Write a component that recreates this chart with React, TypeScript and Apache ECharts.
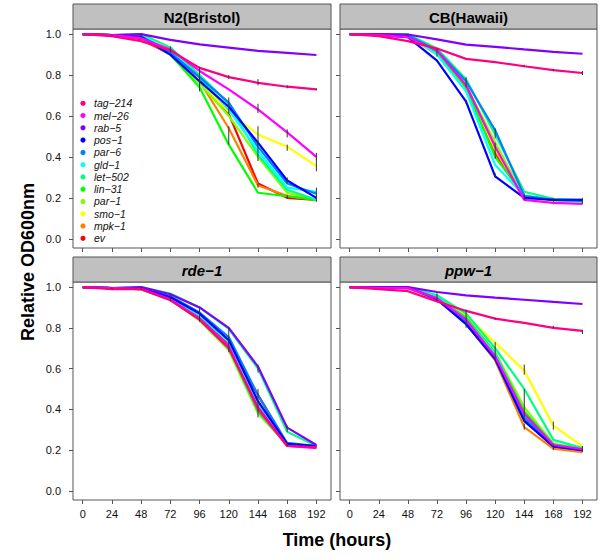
import React, { useEffect, useRef } from "react";
import * as echarts from "echarts";

const times = [0, 24, 48, 72, 96, 120, 144, 168, 192];
const yTicks = [0, 0.2, 0.4, 0.6, 0.8, 1.0];
const genes = ["tag−214", "mel−26", "rab−5", "pos−1", "par−6", "gld−1", "let−502", "lin−31", "par−1", "smo−1", "mpk−1", "ev"];
const geneColors = ["#ff0080", "#ff00ff", "#8000ff", "#0000ff", "#0080ff", "#00ffff", "#00ff80", "#00ff00", "#80ff00", "#ffff00", "#ff8000", "#ff0000"];
const panelTitles = ["N2(Bristol)", "CB(Hawaii)", "rde−1", "ppw−1"];

// rows follow the order of `genes`
const n2Values = [
  [1.0, 0.99, 0.965, 0.92, 0.835, 0.79, 0.762, 0.743, 0.73],
  [1.0, 0.995, 0.98, 0.925, 0.82, 0.73, 0.632, 0.52, 0.4],
  [1.0, 0.995, 1.0, 0.972, 0.95, 0.934, 0.918, 0.908, 0.898],
  [1.0, 0.995, 0.985, 0.9, 0.77, 0.645, 0.47, 0.285, 0.2],
  [1.0, 0.995, 0.99, 0.91, 0.79, 0.665, 0.45, 0.27, 0.22],
  [1.0, 0.995, 0.99, 0.92, 0.79, 0.63, 0.43, 0.25, 0.23],
  [1.0, 0.995, 1.0, 0.935, 0.8, 0.66, 0.41, 0.24, 0.19],
  [1.0, 0.995, 0.99, 0.9, 0.74, 0.46, 0.225, 0.208, 0.19],
  [1.0, 0.995, 0.985, 0.9, 0.76, 0.6, 0.4, 0.225, 0.19],
  [1.0, 0.995, 0.985, 0.9, 0.77, 0.62, 0.51, 0.45, 0.355],
  [1.0, 0.995, 0.98, 0.9, 0.77, 0.54, 0.26, 0.21, 0.19],
  [1.0, 0.995, 0.975, 0.9, 0.79, 0.61, 0.27, 0.2, 0.19],
];
const cbValues = [
  [1.0, 0.99, 0.966, 0.93, 0.879, 0.863, 0.843, 0.824, 0.81],
  [1.0, 0.995, 0.985, 0.92, 0.75, 0.45, 0.19, 0.175, 0.17],
  [1.0, 1.0, 0.998, 0.974, 0.949, 0.938, 0.925, 0.913, 0.904],
  [1.0, 0.995, 0.985, 0.87, 0.67, 0.305, 0.2, 0.19, 0.19],
  [1.0, 0.998, 0.995, 0.92, 0.77, 0.53, 0.21, 0.19, 0.185],
  [1.0, 0.998, 0.995, 0.9, 0.72, 0.36, 0.21, 0.19, 0.18],
  [1.0, 1.0, 1.0, 0.93, 0.78, 0.51, 0.23, 0.195, 0.19],
  [1.0, 0.998, 0.995, 0.91, 0.74, 0.4, 0.21, 0.19, 0.185],
  [1.0, 0.998, 0.995, 0.91, 0.75, 0.47, 0.205, 0.19, 0.18],
  [1.0, 0.998, 0.99, 0.9, 0.74, 0.44, 0.2, 0.185, 0.18],
  [1.0, 0.998, 0.99, 0.9, 0.73, 0.43, 0.2, 0.18, 0.18],
  [1.0, 0.998, 0.99, 0.91, 0.74, 0.42, 0.2, 0.18, 0.175],
];
const rdeValues = [
  [1.0, 0.99, 0.99, 0.935, 0.84, 0.7, 0.41, 0.22, 0.215],
  [1.0, 0.995, 0.99, 0.94, 0.845, 0.71, 0.4, 0.22, 0.21],
  [1.0, 0.995, 1.0, 0.965, 0.9, 0.8, 0.61, 0.31, 0.225],
  [1.0, 0.995, 0.995, 0.95, 0.87, 0.74, 0.44, 0.23, 0.22],
  [1.0, 0.995, 0.995, 0.955, 0.875, 0.755, 0.47, 0.235, 0.22],
  [1.0, 0.995, 0.995, 0.95, 0.86, 0.73, 0.43, 0.23, 0.22],
  [1.0, 0.995, 1.0, 0.968, 0.9, 0.795, 0.6, 0.29, 0.22],
  [1.0, 0.995, 0.99, 0.94, 0.84, 0.7, 0.39, 0.225, 0.215],
  [1.0, 0.995, 0.99, 0.94, 0.835, 0.69, 0.38, 0.225, 0.215],
  [1.0, 0.995, 0.99, 0.94, 0.84, 0.7, 0.4, 0.225, 0.215],
  [1.0, 0.995, 0.99, 0.94, 0.84, 0.71, 0.42, 0.225, 0.215],
  [1.0, 0.995, 0.99, 0.94, 0.85, 0.72, 0.47, 0.23, 0.215],
];
const ppwValues = [
  [1.0, 0.99, 0.98, 0.93, 0.883, 0.845, 0.824, 0.8, 0.785],
  [1.0, 0.995, 0.995, 0.945, 0.84, 0.66, 0.378, 0.225, 0.205],
  [1.0, 1.0, 1.0, 0.976, 0.959, 0.948, 0.938, 0.927, 0.917],
  [1.0, 0.998, 0.998, 0.94, 0.818, 0.647, 0.342, 0.218, 0.2],
  [1.0, 0.998, 0.998, 0.945, 0.83, 0.66, 0.36, 0.22, 0.2],
  [1.0, 0.998, 0.998, 0.95, 0.84, 0.67, 0.37, 0.225, 0.205],
  [1.0, 1.0, 1.0, 0.96, 0.87, 0.7, 0.5, 0.25, 0.21],
  [1.0, 0.998, 0.998, 0.95, 0.85, 0.675, 0.39, 0.23, 0.205],
  [1.0, 0.998, 0.998, 0.95, 0.85, 0.68, 0.41, 0.23, 0.21],
  [1.0, 0.998, 0.995, 0.94, 0.858, 0.728, 0.59, 0.32, 0.218],
  [1.0, 0.998, 0.995, 0.94, 0.82, 0.64, 0.313, 0.207, 0.19],
  [1.0, 0.998, 0.995, 0.94, 0.83, 0.65, 0.35, 0.215, 0.195],
];

// error bars: [time, low, high]
const n2Errors = [
  [24, 0.99, 1.0], [48, 0.985, 1.0], [72, 0.91, 0.94], [96, 0.72, 0.84],
  [120, 0.78, 0.8], [120, 0.61, 0.69], [120, 0.46, 0.55],
  [144, 0.75, 0.78], [144, 0.615, 0.66], [144, 0.46, 0.55], [144, 0.38, 0.48], [144, 0.25, 0.27],
  [168, 0.735, 0.75], [168, 0.495, 0.535], [168, 0.43, 0.46], [168, 0.27, 0.3], [168, 0.195, 0.215],
  [192, 0.725, 0.735], [192, 0.385, 0.42], [192, 0.33, 0.39], [192, 0.2, 0.25], [192, 0.18, 0.21],
];
const cbErrors = [
  [48, 0.99, 1.0], [72, 0.89, 0.93], [96, 0.74, 0.79], [96, 0.66, 0.68],
  [120, 0.49, 0.54], [120, 0.39, 0.47], [120, 0.3, 0.32], [144, 0.84, 0.85], [144, 0.19, 0.22],
  [168, 0.82, 0.83], [168, 0.18, 0.2], [192, 0.8, 0.82], [192, 0.17, 0.2],
];
const rdeErrors = [
  [24, 0.99, 1.0], [48, 0.99, 1.0], [72, 0.93, 0.965], [96, 0.83, 0.9], [120, 0.68, 0.8],
  [144, 0.58, 0.62], [144, 0.36, 0.5], [168, 0.29, 0.32], [168, 0.22, 0.24],
];
const ppwErrors = [
  [72, 0.93, 0.97], [96, 0.8, 0.89], [120, 0.84, 0.85], [120, 0.64, 0.73],
  [144, 0.57, 0.62], [144, 0.34, 0.5], [144, 0.3, 0.33],
  [168, 0.8, 0.81], [168, 0.3, 0.34], [168, 0.2, 0.23], [192, 0.77, 0.79], [192, 0.19, 0.22],
];

const panelValues = [n2Values, cbValues, rdeValues, ppwValues];
const panelErrors = [n2Errors, cbErrors, rdeErrors, ppwErrors];

const FONT = "'Liberation Sans', Arial, Helvetica, sans-serif";
const FRAME = "#555555";

export default function App() {
  const ref = useRef<HTMLDivElement>(null);

  useEffect(() => {
    document.body.style.margin = "0";
    if (!ref.current) return;
    const chart = echarts.init(ref.current, null, { renderer: "svg" });

    const lefts = [73, 340];
    const widths = [258, 257];
    const tops = [29, 282];
    const heights = [219, 218];
    const headerH = 25;

    const grids: any[] = [];
    const xAxes: any[] = [];
    const yAxes: any[] = [];
    const graphics: any[] = [];

    for (let p = 0; p < 4; p++) {
      const col = p % 2;
      const row = Math.floor(p / 2);
      grids.push({
        left: lefts[col], top: tops[row], width: widths[col], height: heights[row],
        show: true, borderColor: FRAME, borderWidth: 1, backgroundColor: "#fff",
      });
      xAxes.push({
        type: "value", gridIndex: p, min: -8, max: 204, position: "bottom",
        axisLine: { show: false, onZero: false },
        splitLine: { show: false },
        axisTick: { show: true, inside: false, customValues: times, length: 4, lineStyle: { color: FRAME } },
        axisLabel: {
          show: row === 1, customValues: times, margin: 8,
          fontFamily: FONT, fontSize: 11, color: "#111",
        },
      });
      yAxes.push({
        type: "value", gridIndex: p, min: -0.045, max: 1.025, position: "left",
        axisLine: { show: false, onZero: false },
        splitLine: { show: false },
        axisTick: { show: true, inside: false, customValues: yTicks, length: 4, lineStyle: { color: FRAME } },
        axisLabel: {
          show: col === 0, customValues: yTicks, margin: 12,
          fontFamily: FONT, fontSize: 11, color: "#111",
          formatter: (v: number) => v.toFixed(1),
        },
      });
      const hx = lefts[col];
      const hy = tops[row] - headerH;
      graphics.push({
        type: "rect", shape: { x: hx, y: hy, width: widths[col], height: headerH },
        style: { fill: "#c0c0c0", stroke: FRAME, lineWidth: 1 }, z: 10,
      });
      graphics.push({
        type: "text", x: hx + widths[col] / 2, y: hy + headerH / 2 + 1, z: 11,
        style: {
          text: panelTitles[p], fill: "#000", align: "center", verticalAlign: "middle",
          font: `${row === 1 ? "italic " : ""}bold 15px ${FONT}`,
        },
      });
    }

    const series: any[] = [];
    for (let p = 0; p < 4; p++) {
      for (let g = genes.length - 1; g >= 0; g--) {
        series.push({
          type: "line", name: genes[g], xAxisIndex: p, yAxisIndex: p,
          data: times.map((t, i) => [t, panelValues[p][g][i]]),
          showSymbol: false, symbol: "none",
          lineStyle: { color: geneColors[g], width: 2.2 },
          itemStyle: { color: geneColors[g] },
          z: 2,
        });
      }
      series.push({
        type: "custom", xAxisIndex: p, yAxisIndex: p, z: 3,
        data: panelErrors[p],
        renderItem: (params: any, api: any) => {
          const a = api.coord([api.value(0), api.value(1)]);
          const b = api.coord([api.value(0), api.value(2)]);
          return {
            type: "line",
            shape: { x1: a[0], y1: a[1], x2: b[0], y2: b[1] },
            style: { stroke: "#333", lineWidth: 1 },
          };
        },
      });
    }

    // legend inside first panel
    genes.forEach((name, i) => {
      const y = 103.3 + i * 12.27;
      graphics.push({ type: "circle", shape: { cx: 83, cy: y, r: 2.6 }, style: { fill: geneColors[i] }, z: 12 });
      graphics.push({
        type: "text", x: 94, y: y, z: 12,
        style: { text: name, fill: "#111", align: "left", verticalAlign: "middle", font: `italic 10.5px ${FONT}` },
      });
    });

    graphics.push({
      type: "text", x: 337, y: 540, z: 12,
      style: { text: "Time (hours)", fill: "#000", align: "center", verticalAlign: "middle", font: `bold 18px ${FONT}` },
    });
    graphics.push({
      type: "text", x: 28, y: 262, rotation: Math.PI / 2, z: 12,
      style: { text: "Relative OD600nm", fill: "#000", align: "center", verticalAlign: "middle", font: `bold 18px ${FONT}` },
    });

    chart.setOption({
      animation: false,
      backgroundColor: "#fff",
      grid: grids,
      xAxis: xAxes,
      yAxis: yAxes,
      series,
      graphic: graphics,
    });

    return () => chart.dispose();
  }, []);

  return <div ref={ref} style={{ width: 600, height: 560 }} />;
}
